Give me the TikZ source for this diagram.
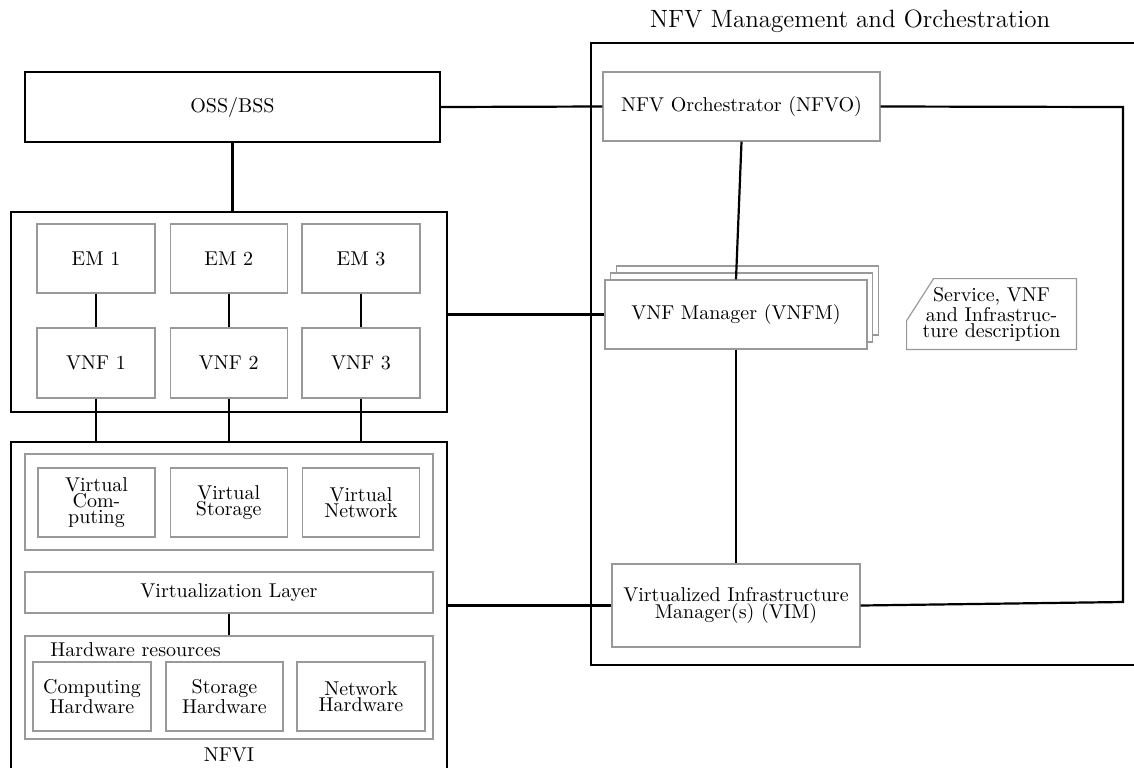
\documentclass[tikz,border=0pt]{standalone}
\begin{document}
\begin{tikzpicture}[x=0.5pt,y=-0.5pt,
  txt/.style={font=\fontsize{10}{1}\selectfont},
  frame/.style={draw=black, line width=1.1pt, inner sep=0pt, txt},
  box/.style={draw=black!40, line width=0.6pt, fill=white, align=center, inner sep=0pt, txt},
  link/.style={draw=black, line width=1.1pt}]
\useasboundingbox (0,0) rectangle (1134,767);

% --- NFV MANO frame and title ---
\node[frame, minimum width=285pt, minimum height=311pt] (mano) at (876,354) {};
\node[anchor=base, inner sep=0pt, font=\fontsize{12.5}{15}\selectfont] (title) at (850,27) {NFV Management and Orchestration};

% --- OSS/BSS ---
\node[frame, minimum width=207.5pt, minimum height=35pt] (oss) at (232.5,107) {OSS/BSS};

% --- EM / VNF block ---
\node[frame, minimum width=218pt, minimum height=100pt] (vnfbox) at (229,312) {};
\node[box, minimum width=59pt, minimum height=34.5pt] (em1) at (96,258.5) {EM 1};
\node[box, minimum width=58.5pt, minimum height=34.5pt] (em2) at (228.7,258.5) {EM 2};
\node[box, minimum width=59pt, minimum height=34.5pt] (em3) at (361,258.5) {EM 3};
\node[box, minimum width=59pt, minimum height=35pt] (vnf1) at (96,363) {VNF 1};
\node[box, minimum width=58.5pt, minimum height=35pt] (vnf2) at (228.7,363) {VNF 2};
\node[box, minimum width=59pt, minimum height=35pt] (vnf3) at (361,363) {VNF 3};

% --- NFVI ---
\node[frame, minimum width=218pt, minimum height=180pt] (nfvi) at (229,622) {};
\node[box, minimum width=204pt, minimum height=48pt] (vgroup) at (229,502) {};
\node[box, minimum width=58.5pt, minimum height=34.5pt] (vc) at (96.5,502.5) {Virtual\\Com-\\puting};
\node[box, minimum width=58.5pt, minimum height=34.5pt] (vs) at (228.7,502.5) {Virtual\\Storage};
\node[box, minimum width=58.5pt, minimum height=34.5pt] (vn) at (361,502.5) {Virtual\\Network};
\node[box, minimum width=204pt, minimum height=20.5pt] (vl) at (229,592.5) {Virtualization Layer};
\node[box, minimum width=204pt, minimum height=51.5pt] (hw) at (229,687.5) {};
\node[anchor=base west, inner sep=0pt, txt] (hwlabel) at (50,656.7) {Hardware resources};
\node[box, minimum width=59pt, minimum height=34.5pt] (ch) at (92,696.5) {Computing\\Hardware};
\node[box, minimum width=58.5pt, minimum height=34.5pt] (sh) at (224.5,696.5) {Storage\\Hardware};
\node[box, minimum width=64pt, minimum height=34.5pt] (nh) at (361,696.5) {Network\\Hardware};
\node[anchor=base, inner sep=0pt, txt] (nfvilabel) at (229,761) {NFVI};

% --- MANO components ---
\node[box, minimum width=138.5pt, minimum height=34.5pt] (nfvo) at (741.5,106.5) {NFV Orchestrator (NFVO)};
\node[box, minimum width=131pt, minimum height=34.5pt] (vnfmB) at (747.5,300.5) {};
\node[box, minimum width=131pt, minimum height=34.5pt] (vnfmA) at (741.8,307.5) {};
\node[box, minimum width=131pt, minimum height=34.5pt] (vnfm) at (736,314.5) {VNF Manager (VNFM)};
\node[align=center, inner sep=0pt, txt, minimum width=84.5pt, minimum height=35pt] (desc) at (991.5,314)
  {Service, VNF\\and Infrastruc-\\ture description};
\draw[draw=black!40, line width=0.6pt] ([xshift=13.5pt]desc.north west) -- (desc.north east)
  -- (desc.south east) -- (desc.south west) -- ([yshift=-21pt]desc.north west) -- cycle;
\node[box, minimum width=124pt, minimum height=41.5pt] (vim) at (736,605.5) {Virtualized Infrastructure\\Manager(s) (VIM)};

% --- connectors ---
\draw[link] (oss.east) -- (nfvo.west);
\draw[link] (oss.south) -- (oss.south |- vnfbox.north);
\foreach \i in {1,2,3} {
  \draw[link] (em\i.south) -- (vnf\i.north);
  \draw[link] (vnf\i.south) -- (vnf\i.south |- nfvi.north);
}
\draw[link] (vnfm.west -| vnfbox.east) -- (vnfm.west);
\draw[link] (nfvo.south) -- (vnfm.north);
\draw[link] (vnfm.south) -- (vim.north);
\draw[link] (vim.west -| nfvi.east) -- (vim.west);
\draw[link] (vl.south) -- (hw.north);
\coordinate (ne) at (1123,107);
\coordinate (se) at (1123,602);
\draw[link] (nfvo.east) -- (ne) -- (se) -- (vim.east);
\end{tikzpicture}
\end{document}
